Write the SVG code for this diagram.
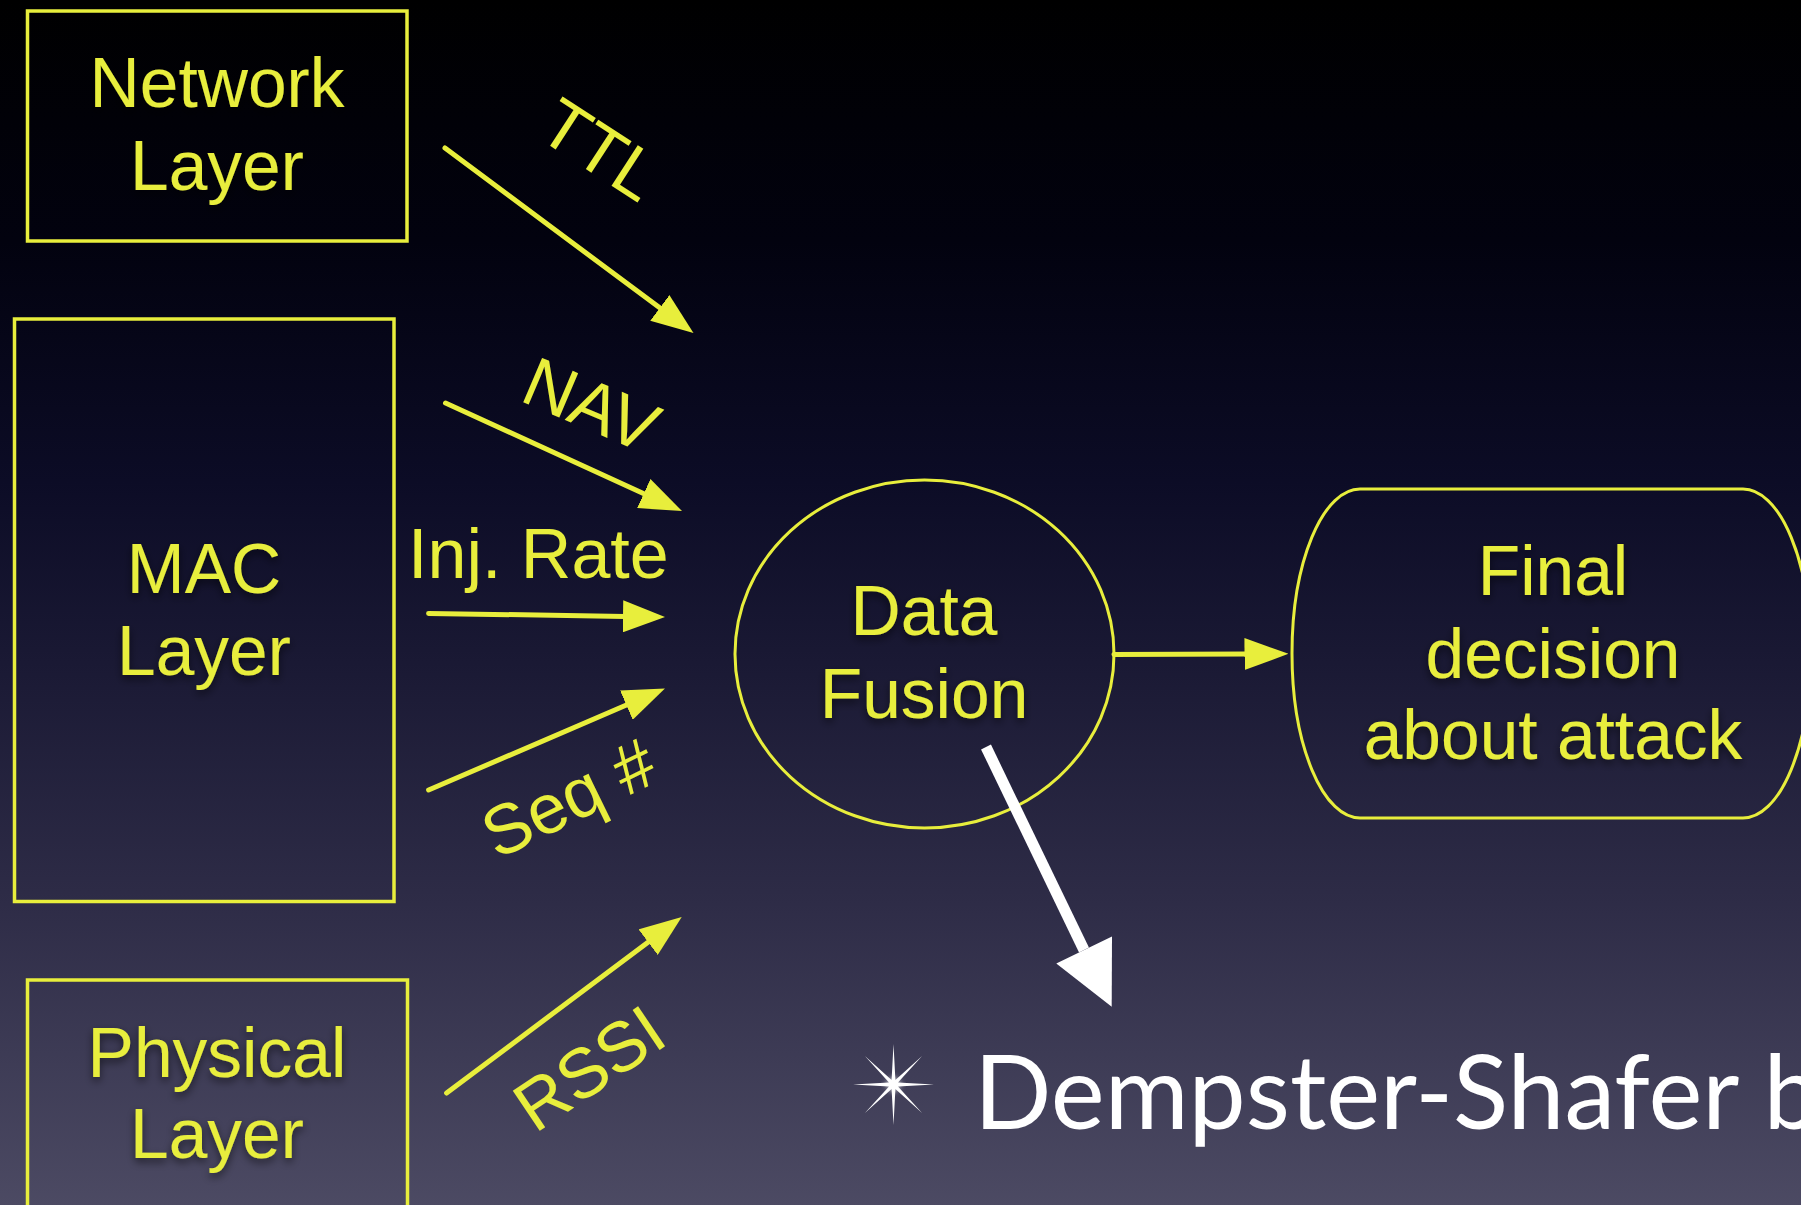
<svg xmlns="http://www.w3.org/2000/svg" width="1801" height="1205" viewBox="0 0 1801 1205">
  <defs>
    <linearGradient id="bg" x1="0" y1="0" x2="0" y2="1">
      <stop offset="0" stop-color="#000000"/>
      <stop offset="0.2" stop-color="#02020f"/>
      <stop offset="0.4" stop-color="#0c0c26"/>
      <stop offset="0.55" stop-color="#1a1934"/>
      <stop offset="0.75" stop-color="#2e2c47"/>
      <stop offset="1" stop-color="#4c4a63"/>
    </linearGradient>
    <filter id="sh" x="-20%" y="-20%" width="140%" height="160%">
      <feDropShadow dx="0" dy="4" stdDeviation="4" flood-color="#000000" flood-opacity="0.55"/>
    </filter>
    <filter id="glow" x="-50%" y="-50%" width="200%" height="200%">
      <feGaussianBlur stdDeviation="3"/>
    </filter>
    <marker id="ya" viewBox="0 0 42 32" markerWidth="42" markerHeight="32" refX="2" refY="16" markerUnits="userSpaceOnUse" orient="auto">
      <path d="M0,0 L42,16 L0,32 z" fill="#e8ee3c"/>
    </marker>
    <marker id="yb" viewBox="0 0 44 32" markerWidth="44" markerHeight="32" refX="2" refY="16" markerUnits="userSpaceOnUse" orient="auto">
      <path d="M0,0 L44,16 L0,32 z" fill="#e8ee3c"/>
    </marker>
  </defs>
  <style>
    .box { fill: none; stroke: #e8ee3c; stroke-width: 3.5; }
    .thin { fill: none; stroke: #e8ee3c; stroke-width: 3; }
    .yt { fill: #e8ee3c; font-family: "Liberation Sans", Arial, sans-serif; font-size: 69.5px; filter: url(#sh); }
    .mid { text-anchor: middle; }
    .lbl { fill: #e8ee3c; font-family: "Liberation Sans", Arial, sans-serif; font-size: 70px; }
    .conn { fill: none; stroke: #e8ee3c; stroke-width: 5; stroke-linecap: round; }
    .wt { fill: #ffffff; font-family: Lato, "Open Sans", sans-serif; font-size: 102px; }
  </style>

  <rect x="0" y="0" width="1801" height="1205" fill="url(#bg)"/>

  <g id="network-layer">
    <rect class="box" x="27.5" y="11" width="379.5" height="230"/>
    <text class="yt mid" x="217" y="107">Network</text>
    <text class="yt mid" x="217" y="190">Layer</text>
  </g>

  <g id="mac-layer">
    <rect class="box" x="14.5" y="319" width="379.5" height="582.5"/>
    <text class="yt mid" x="204" y="593">MAC</text>
    <text class="yt mid" x="204" y="675">Layer</text>
  </g>

  <g id="physical-layer">
    <rect class="box" x="27.5" y="980" width="380" height="240"/>
    <text class="yt mid" x="217" y="1077">Physical</text>
    <text class="yt mid" x="217" y="1158">Layer</text>
  </g>

  <g id="data-fusion">
    <ellipse class="thin" cx="924.5" cy="654" rx="189.5" ry="174"/>
    <text class="yt mid" x="924" y="635">Data</text>
    <text class="yt mid" x="924" y="718">Fusion</text>
  </g>

  <g id="final-decision">
    <rect class="thin" x="1292" y="489" width="519" height="329" rx="68" ry="164.5"/>
    <text class="yt mid" x="1553" y="595">Final</text>
    <text class="yt mid" x="1553" y="678">decision</text>
    <text class="yt mid" x="1553" y="759">about attack</text>
  </g>

  <g id="connectors">
    <line class="conn" x1="445" y1="148" x2="661.4" y2="309.1" marker-end="url(#ya)"/>
    <line class="conn" x1="445.5" y1="403" x2="645.6" y2="494.4" marker-end="url(#ya)"/>
    <line class="conn" x1="428.6" y1="613.4" x2="625" y2="616.4" marker-end="url(#ya)"/>
    <line class="conn" x1="428.6" y1="790" x2="628.2" y2="704.3" marker-end="url(#ya)"/>
    <line class="conn" x1="446.6" y1="1093" x2="649.7" y2="941" marker-end="url(#ya)"/>
    <line class="conn" x1="1114" y1="654.5" x2="1246.5" y2="654" stroke-linecap="butt" marker-end="url(#yb)"/>
    <g id="to-dempster">
      <line x1="986" y1="747" x2="1084" y2="950" stroke="#ffffff" stroke-width="11"/>
      <polygon points="1112,936.5 1111.7,1006.7 1056.3,963.5" fill="#ffffff"/>
    </g>
    <text class="lbl" transform="translate(535,136) rotate(33)">TTL</text>
    <text class="lbl" transform="translate(518,400) rotate(23)">NAV</text>
    <text class="lbl" x="408" y="578">Inj. Rate</text>
    <text class="lbl" transform="translate(497,860) rotate(-26)">Seq #</text>
    <text class="lbl" transform="translate(535,1134) rotate(-34)">RSSI</text>
  </g>

  <g id="dempster-shafer">
    <circle cx="893.5" cy="1084.5" r="6" fill="#ffffff" filter="url(#glow)"/>
    <polygon fill="#ffffff" points="934,1084.5 898,1086.4 922.1,1113.1 895.4,1089 893.5,1125 891.6,1089 864.9,1113.1 889,1086.4 853,1084.5 889,1082.6 864.9,1055.9 891.6,1080 893.5,1044 895.4,1080 922.1,1055.9 898,1082.6"/>
    <text class="wt" x="974" y="1129">Dempster-Shafer b</text>
  </g>
</svg>
